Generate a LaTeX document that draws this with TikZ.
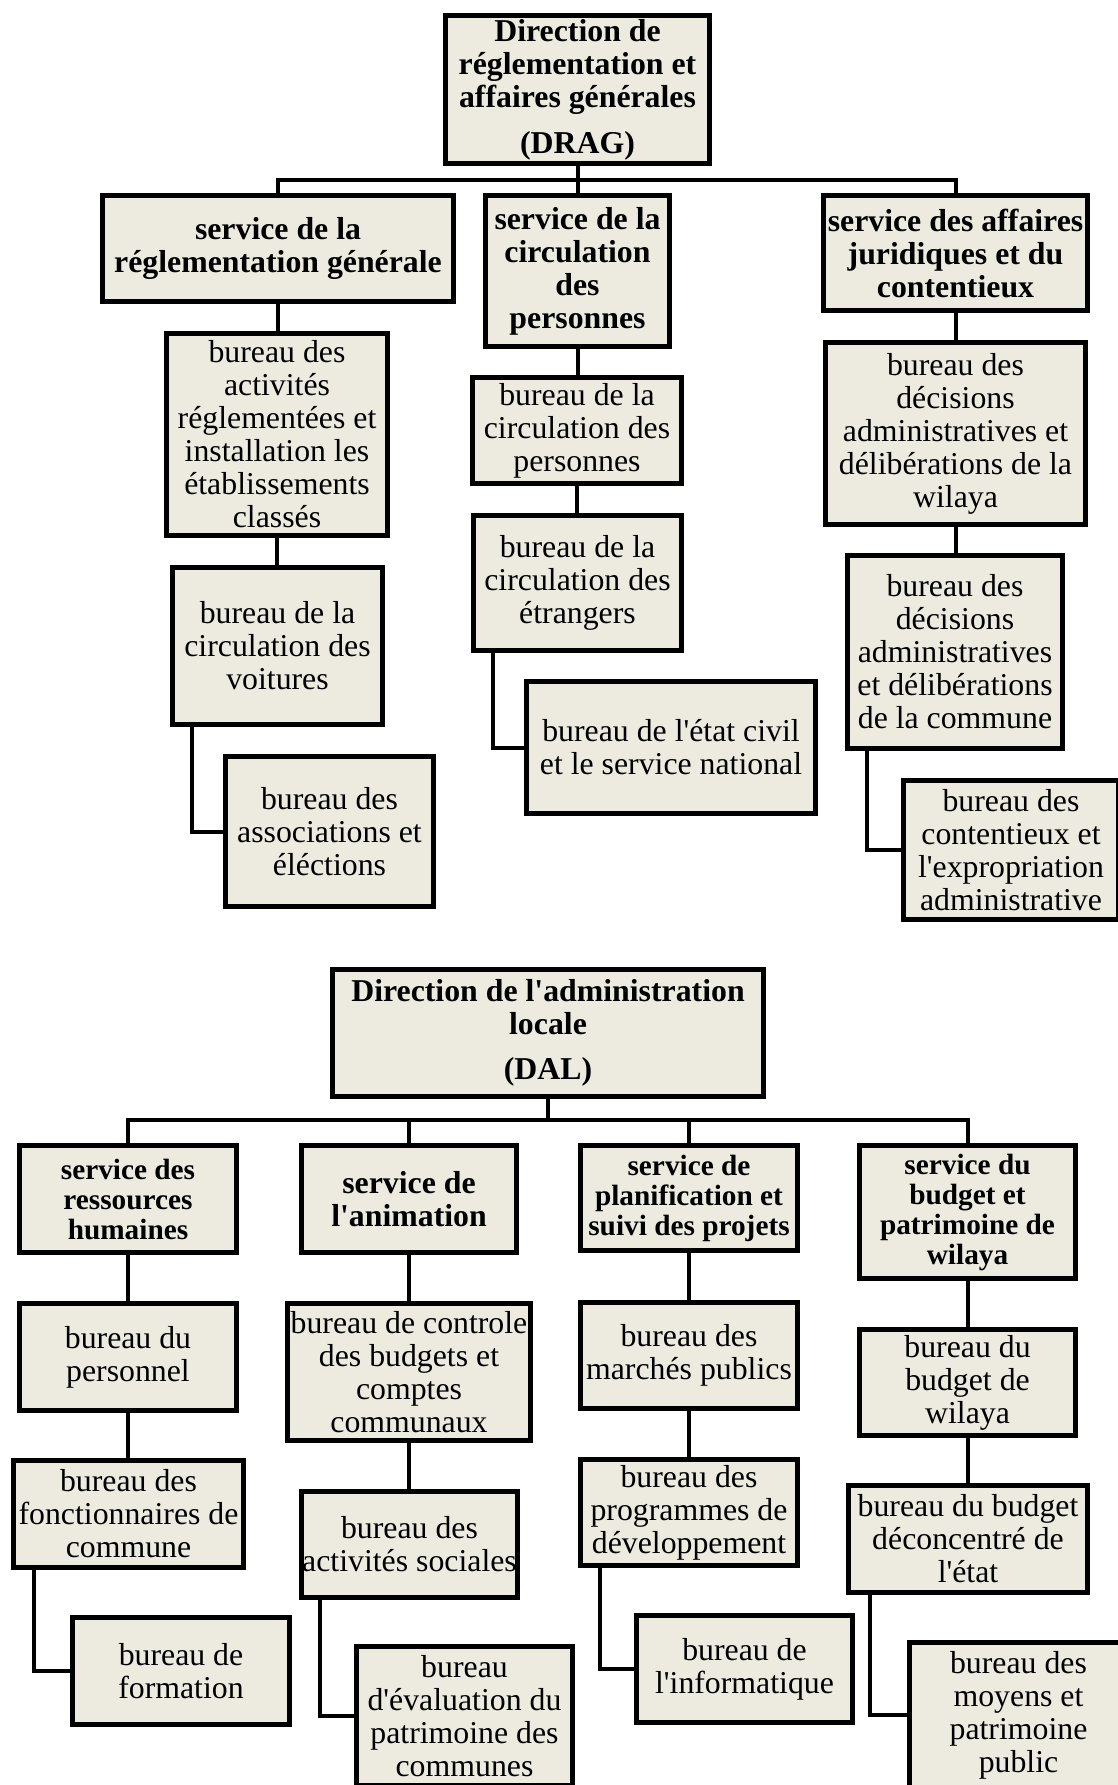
\documentclass[tikz,border=0pt]{standalone}
\usepackage{fontspec}
\setmainfont{Liberation Serif}[Ligatures=TeXOff]
\usepackage{xcolor}

\begin{document}
\begin{tikzpicture}[x=1pt,y=-1pt,
  box/.style={draw=black,fill=boxColor,line width=5pt,inner sep=0pt,align=center,
    font=\fontsize{31.8}{33}\selectfont},
  head/.style={box,font=\bfseries\fontsize{31.8}{33}\selectfont},
  headsm/.style={box,font=\bfseries\fontsize{29.3}{30}\selectfont},
  link/.style={draw=black,line width=4pt}]
\definecolor{boxColor}{RGB}{237,235,224}
\path[use as bounding box,fill=white] (0,0) rectangle (1117,1785);

% DRAG
\node[head,minimum width=264,minimum height=148] (drag) at (577.5, 89.5) {Direction de\\réglementation et\\affaires générales\\[13pt](DRAG)};

\node[head,minimum width=351,minimum height=106] (sreg) at (278, 248.5) {service de la\\réglementation générale};
\node[head,minimum width=184,minimum height=151] (scirc) at (577.5, 271) {service de la\\circulation\\des\\personnes};
\node[head,minimum width=264,minimum height=115] (sjur) at (955.5, 253) {service des affaires\\juridiques et du\\contentieux};

\node[box,minimum width=221,minimum height=202] (bact) at (277, 434.5) {bureau des\\activités\\réglementées et\\installation les\\établissements\\classés};
\node[box,minimum width=210,minimum height=157] (bvoit) at (277.5, 646) {bureau de la\\circulation des\\voitures};
\node[box,minimum width=208,minimum height=150] (bassoc) at (329.5, 831.5) {bureau des\\associations et\\éléctions};

\node[box,minimum width=209,minimum height=106] (bcircp) at (577, 430.5) {bureau de la\\circulation des\\personnes};
\node[box,minimum width=208,minimum height=135] (betr) at (577.5, 583) {bureau de la\\circulation des\\étrangers};
\node[box,minimum width=289,minimum height=132] (bcivil) at (671, 747.5) {bureau de l'état civil\\et le service national};

\node[box,minimum width=260,minimum height=182] (bdecw) at (955.5, 433.5) {bureau des\\décisions\\administratives et\\délibérations de la\\wilaya};
\node[box,minimum width=215,minimum height=193] (bdecc) at (955, 652) {bureau des\\décisions\\administratives\\et délibérations\\de la commune};
\node[box,minimum width=215,minimum height=139] (bcont) at (1011, 850) {bureau des\\contentieux et\\l'expropriation\\administrative};

\coordinate (busA) at (577.5, 180);
\draw[link] (drag.south) -- (busA);
\draw[link] (sreg.north) |- (busA) -| (sjur.north);
\draw[link] (busA) -- (scirc.north);

\draw[link] (sreg.south) -- (sreg.south |- bact.north);
\draw[link] (bact.south) -- (bact.south |- bvoit.north);
\draw[link] ([xshift=22pt]bvoit.south west) |- (bassoc.west);

\draw[link] (scirc.south) -- (scirc.south |- bcircp.north);
\draw[link] (bcircp.south) -- (bcircp.south |- betr.north);
\draw[link] ([xshift=22pt]betr.south west) |- (bcivil.west);

\draw[link] (sjur.south) -- (sjur.south |- bdecw.north);
\draw[link] (bdecw.south) -- (bdecw.south |- bdecc.north);
\draw[link] ([xshift=22pt]bdecc.south west) |- (bcont.west);

% DAL
\node[head,minimum width=431,minimum height=127] (dal) at (548, 1033) {Direction de l'administration\\locale\\[12pt](DAL)};

\node[headsm,minimum width=217,minimum height=107] (srh) at (128, 1199) {service des\\ressources\\humaines};
\node[head,minimum width=215,minimum height=107] (sanim) at (409, 1199) {service de\\l'animation};
\node[headsm,minimum width=217,minimum height=105] (splan) at (689, 1198) {service de\\planification et\\suivi des projets};
\node[headsm,minimum width=216,minimum height=133] (sbud) at (967.5, 1212) {service du\\budget et\\patrimoine de\\wilaya};

\node[box,minimum width=217,minimum height=107] (bpers) at (128, 1357) {bureau du\\personnel};
\node[box,minimum width=230,minimum height=107] (bfonc) at (128.5, 1514) {bureau des\\fonctionnaires de\\commune};
\node[box,minimum width=217,minimum height=107] (bform) at (181, 1671) {bureau de\\formation};

\node[box,minimum width=243,minimum height=137] (bctrl) at (409, 1372) {bureau de controle\\des budgets et\\comptes\\communaux};
\node[box,minimum width=216,minimum height=106] (bsoc) at (409.5, 1544.5) {bureau des\\activités sociales};
\node[box,minimum width=216,minimum height=139] (beval) at (464.5, 1716) {bureau\\d'évaluation du\\patrimoine des\\communes};

\node[box,minimum width=217,minimum height=106] (bmarch) at (689, 1355.5) {bureau des\\marchés publics};
\node[box,minimum width=217,minimum height=106] (bprog) at (689, 1512.5) {bureau des\\programmes de\\développement};
\node[box,minimum width=216,minimum height=107] (binfo) at (744.5, 1669) {bureau de\\l'informatique};

\node[box,minimum width=216,minimum height=106] (bbudw) at (967.5, 1382.5) {bureau du\\budget de\\wilaya};
\node[box,minimum width=239,minimum height=107] (bdec) at (968, 1539) {bureau du budget\\déconcentré de\\l'état};
\node[box,minimum width=218,minimum height=145] (bmoy) at (1018.5, 1715) {bureau des\\moyens et\\patrimoine\\public};

\coordinate (busB) at (548, 1120);
\draw[link] (dal.south) -- (busB);
\draw[link] (srh.north) |- (busB) -| (sbud.north);
\draw[link] (sanim.north) -- (sanim.north |- busB);
\draw[link] (splan.north) -- (splan.north |- busB);

\draw[link] (srh.south) -- (srh.south |- bpers.north);
\draw[link] (bpers.south) -- (bpers.south |- bfonc.north);
\draw[link] ([xshift=23pt]bfonc.south west) |- (bform.west);

\draw[link] (sanim.south) -- (sanim.south |- bctrl.north);
\draw[link] (bctrl.south) -- (bctrl.south |- bsoc.north);
\draw[link] ([xshift=21pt]bsoc.south west) |- (beval.west);

\draw[link] (splan.south) -- (splan.south |- bmarch.north);
\draw[link] (bmarch.south) -- (bmarch.south |- bprog.north);
\draw[link] ([xshift=22pt]bprog.south west) |- (binfo.west);

\draw[link] (sbud.south) -- (sbud.south |- bbudw.north);
\draw[link] (bbudw.south) -- (bbudw.south |- bdec.north);
\draw[link] ([xshift=24pt]bdec.south west) |- (bmoy.west);
\end{tikzpicture}
\end{document}
